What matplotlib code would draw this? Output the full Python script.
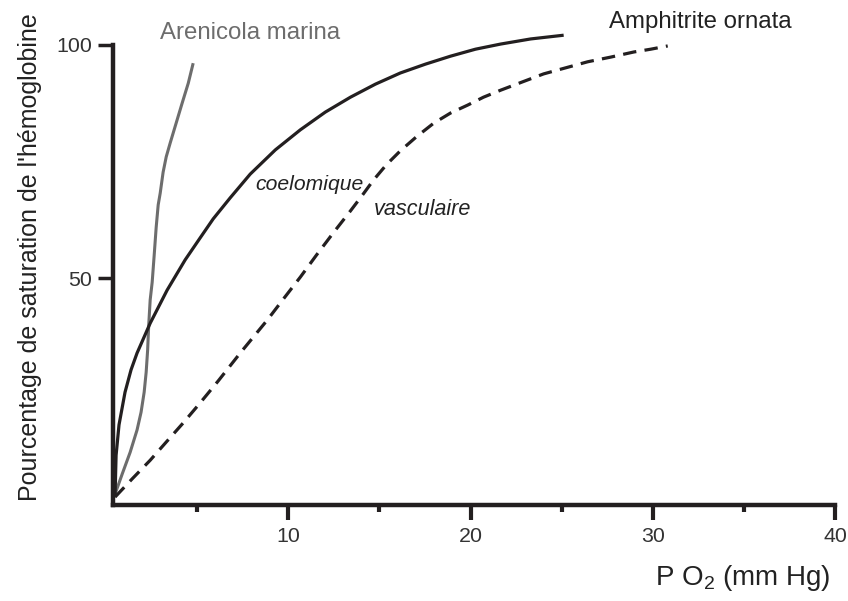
import numpy as np
import matplotlib
matplotlib.use("Agg")
import matplotlib.pyplot as plt

plt.rcParams['font.family'] = ['Liberation Sans', 'DejaVu Sans']
plt.rcParams['mathtext.default'] = 'regular'

# Arenicola marina
aren_x = [0.49, 0.88, 1.32, 1.70, 1.92, 2.09, 2.20, 2.28, 2.34, 2.42, 2.53, 2.64,
          2.75, 2.86, 2.97, 3.13, 3.30, 3.52, 3.85, 4.18, 4.51, 4.78]
aren_y = [3.6, 7.9, 12.6, 17.4, 21.2, 25.5, 29.8, 34.5, 39.9, 45.3, 49.1, 54.9,
          60.9, 65.7, 68.2, 72.7, 76.0, 79.0, 83.3, 87.6, 91.8, 96.1]

# Amphitrite ornata - coelomique
coel_x = [0.49, 0.55, 0.71, 1.04, 1.37, 1.70, 2.42, 3.35, 4.34, 5.16, 5.88, 6.81, 7.91,
          9.29, 10.66, 12.03, 13.41, 14.78, 16.15, 17.53, 18.90, 20.27, 21.65, 23.30, 25.11]
coel_y = [3.0, 12.0, 18.5, 25.5, 30.3, 33.9, 40.3, 47.4, 53.9, 58.6, 62.7, 67.2, 72.3,
          77.5, 81.8, 85.6, 88.8, 91.6, 94.0, 95.9, 97.6, 99.1, 100.2, 101.3, 102.1]

# Amphitrite ornata - vasculaire
vasc_x = [0.49, 1.43, 2.42, 3.30, 4.23, 5.16, 6.15, 7.36, 8.85, 9.73, 10.66, 11.54,
          12.47, 13.41, 14.07, 14.67, 15.38, 16.15, 17.03, 17.97, 18.90, 19.84, 20.71,
          21.65, 22.86, 24.01, 25.22, 26.43, 27.69, 28.96, 29.89, 30.82]
vasc_y = [3.0, 6.9, 10.9, 14.8, 18.9, 23.2, 27.9, 33.9, 41.0, 45.5, 50.2, 54.9,
          59.7, 64.4, 67.8, 71.0, 74.3, 77.3, 80.3, 83.2, 85.4, 87.1, 88.8,
          90.3, 92.1, 93.8, 95.1, 96.4, 97.4, 98.5, 99.1, 99.8]

x_major = [10, 20, 30, 40]
x_minor = [5, 15, 25, 35]
y_major = [50, 100]

ink = '#231f20'

fig = plt.figure(figsize=(8.48, 6.01), dpi=100)
ax = fig.add_axes([113 / 848, 1 - 505 / 601, (835 - 113) / 848, (505 - 45) / 601])

ax.plot(aren_x, aren_y, color='#6d6d6d', lw=2.2, clip_on=False,
        solid_capstyle='butt', solid_joinstyle='round')
ax.plot(coel_x, coel_y, color=ink, lw=2.3, clip_on=False,
        solid_capstyle='butt', solid_joinstyle='round')
ax.plot(vasc_x, vasc_y, color=ink, lw=2.3, clip_on=False, dashes=(4.2, 2.6),
        dash_capstyle='butt', dash_joinstyle='round')

ax.set_xlim(0.38, 40)
ax.set_ylim(1.3, 100)

for s in ['top', 'right']:
    ax.spines[s].set_visible(False)
for s in ['left', 'bottom']:
    ax.spines[s].set_linewidth(3.2)
    ax.spines[s].set_color(ink)
    ax.spines[s].set_capstyle('projecting')

ax.set_xticks(x_major)
ax.set_xticks(x_minor, minor=True)
ax.set_yticks(y_major)
ax.tick_params(axis='x', which='major', length=11, width=3, color=ink, pad=5,
               labelsize=15.4, labelcolor='#333333')
ax.tick_params(axis='x', which='minor', length=5, width=3, color=ink)
ax.tick_params(axis='y', which='major', length=11, width=2.5, color=ink, pad=4,
               labelsize=15.4, labelcolor='#333333')

ax.text(2.97, 102.6, 'Arenicola marina', color='#6d6d6d', fontsize=17.3, va='center', ha='left')
ax.text(27.6, 104.9, 'Amphitrite ornata', color='#222222', fontsize=17.3, va='center', ha='left')
ax.text(8.19, 70.0, 'coelomique', color='#222222', fontsize=15.2, style='italic', va='center', ha='left')
ax.text(14.67, 64.6, 'vasculaire', color='#222222', fontsize=15.6, style='italic', va='center', ha='left')

fig.text(0.035, 0.573, "Pourcentage de saturation de l'hémoglobine", rotation=90,
         ha='center', va='center', fontsize=18, color='#222222')
fig.text(0.979, 0.038, 'P O$_2$ (mm Hg)', ha='right', va='center', fontsize=20, color='#222222')

fig.savefig('out.png', dpi=100)
